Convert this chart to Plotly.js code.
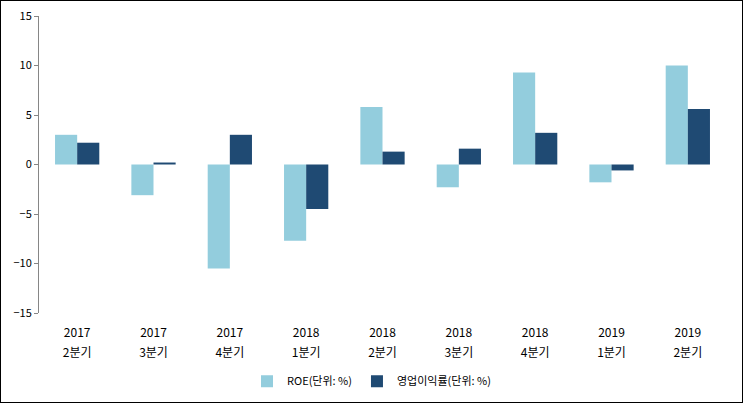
<!DOCTYPE html>
<html>
<head>
<meta charset="utf-8">
<script src="https://cdn.plot.ly/plotly-3.0.1.min.js"></script>
<style>
html,body{margin:0;padding:0;background:#fff;}
#chart{width:741px;height:401px;border:1px solid #000;}
</style>
</head>
<body>
<div id="chart"></div>
<script>
const years = ["2017","2017","2017","2018","2018","2018","2018","2019","2019"];
const quarters = ["2분기","3분기","4분기","1분기","2분기","3분기","4분기","1분기","2분기"];
const categories = ["2017Q2","2017Q3","2017Q4","2018Q1","2018Q2","2018Q3","2018Q4","2019Q1","2019Q2"];
const roe = [3.0, -3.1, -10.5, -7.7, 5.8, -2.3, 9.3, -1.8, 10.0];
const opMargin = [2.2, 0.2, 3.0, -4.5, 1.3, 1.6, 3.2, -0.6, 5.6];
const seriesNames = ["ROE(단위: %)", "영업이익률(단위: %)"];
const tickLabels = years.map((y, i) =>
  "<span style='font-size:12px'>" + y + "</span><br><span style='font-size:12px'>" + quarters[i] + "</span>");

const font = "Noto Sans CJK KR, DejaVu Sans, sans-serif";
const yMin = -15, yMax = 15;

const traces = [
  {type:"bar", x:categories, y:roe, name:seriesNames[0], marker:{color:"#93CDDD"}},
  {type:"bar", x:categories, y:opMargin, name:seriesNames[1], marker:{color:"#1F4A73"}}
];

const layout = {
  width:741, height:401,
  margin:{l:38, r:16, t:15, b:89},
  paper_bgcolor:"#fff", plot_bgcolor:"#fff",
  font:{family:font, size:11, color:"#000"},
  barmode:"group", bargap:0.42, bargroupgap:0,
  showlegend:true,
  legend:{orientation:"h", xref:"container", yref:"container", x:0.5, xanchor:"center",
          y:0.052, yanchor:"middle",
          font:{family:font, size:11, color:"#000"}, traceorder:"normal", itemwidth:30},
  xaxis:{type:"category", tickmode:"array", tickvals:categories, ticktext:tickLabels,
         showline:false, ticks:"", showgrid:false, zeroline:false, automargin:false,
         ticklabelstandoff:8, tickfont:{family:font, size:15, color:"#000"}},
  xaxis2:{overlaying:"x", anchor:"free", position:(0 - yMin)/(yMax - yMin),
          type:"linear", range:[-0.5, categories.length - 0.5], tick0:-0.5, dtick:1,
          ticks:"outside", ticklen:4, tickcolor:"#868686", showline:true, linecolor:"#868686",
          linewidth:1, showticklabels:false, showgrid:false, zeroline:false, fixedrange:true},
  yaxis:{range:[yMin, yMax], dtick:5, ticks:"outside", ticklen:4, tickcolor:"#868686",
         showline:true, linecolor:"#868686", linewidth:1, showgrid:false, zeroline:false,
         automargin:false, tickfont:{family:font, size:11, color:"#000"}}
};

Plotly.newPlot("chart", traces, layout, {displayModeBar:false, staticPlot:true});
</script>
</body>
</html>
